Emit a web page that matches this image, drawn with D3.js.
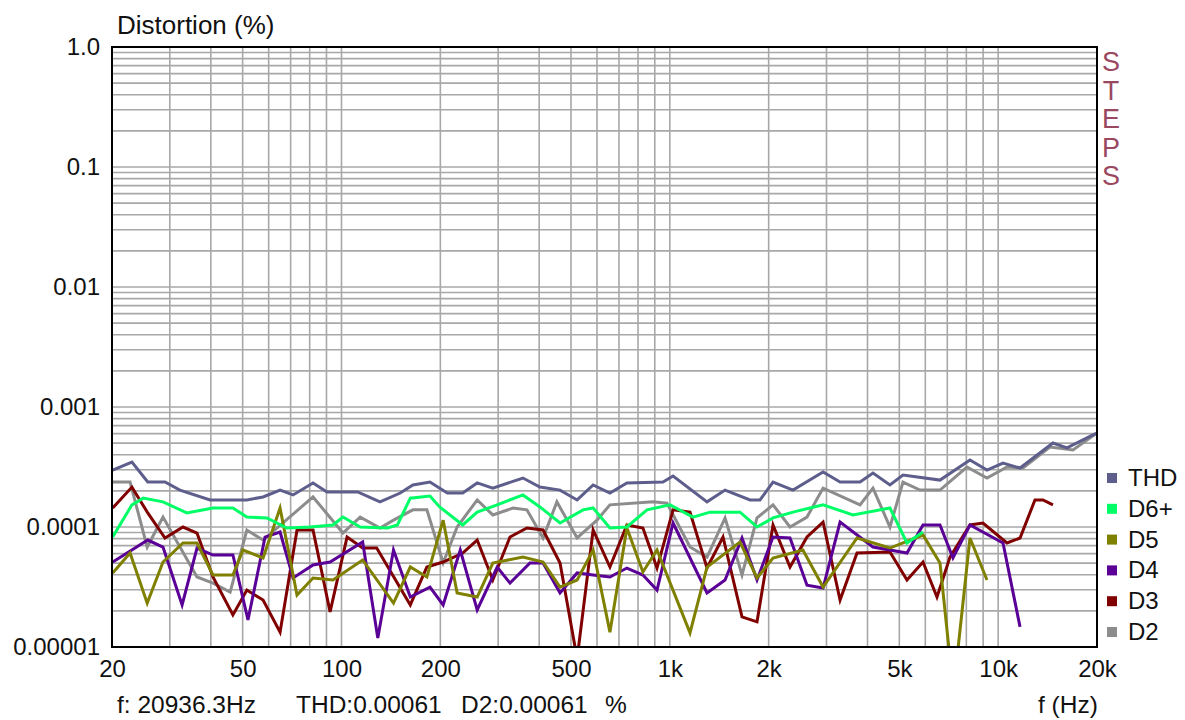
<!DOCTYPE html>
<html>
<head>
<meta charset="utf-8">
<script src="https://cdn.jsdelivr.net/npm/d3@7"></script>
<style>
  body { margin: 0; background: #fff; }
  text { font-family: "Liberation Sans", Arial, sans-serif; }
</style>
</head>
<body>
<div id="chart"></div>
<script>
// series: [frequency Hz, distortion %]
const thd = [[20.1,2.98e-4],[23,3.48e-4],[25.7,2.37e-4],[29,2.37e-4],[32.2,2.03e-4],[39.8,1.68e-4],[51.5,1.68e-4],[57.7,1.78e-4],[65,2.03e-4],[71.2,1.85e-4],[81.9,2.33e-4],[90.3,1.96e-4],[112,1.96e-4],[131,1.62e-4],[151,1.92e-4],[165,2.24e-4],[186,2.37e-4],[210,1.92e-4],[234,1.92e-4],[259,2.33e-4],[289,2.11e-4],[357,2.56e-4],[402,2.15e-4],[463,2.03e-4],[522,1.68e-4],[584,2.24e-4],[657,1.92e-4],[740,2.33e-4],[953,2.37e-4],[1023,2.66e-4],[1298,1.62e-4],[1473,2.03e-4],[1755,1.68e-4],[1882,1.68e-4],[2062,2.37e-4],[2372,2.03e-4],[2929,2.87e-4],[3300,2.37e-4],[3796,2.37e-4],[4157,2.82e-4],[4682,2.24e-4],[5130,2.71e-4],[6650,2.46e-4],[8206,3.62e-4],[9246,2.98e-4],[10346,3.41e-4],[11658,3.1e-4],[14684,5.01e-4],[16200,4.56e-4],[19446,5.85e-4],[20000,6.07e-4]];
const d6 = [[20.1,0.825e-4],[23,1.53e-4],[24.9,1.74e-4],[28.6,1.62e-4],[33.8,1.31e-4],[40.6,1.44e-4],[46.7,1.44e-4],[51.5,1.21e-4],[59.3,1.19e-4],[68.2,0.981e-4],[80.2,1e-4],[94.2,1.04e-4],[101,1.21e-4],[114,1e-4],[138,0.981e-4],[148,1.04e-4],[162,1.74e-4],[186,1.81e-4],[199,1.47e-4],[234,1.04e-4],[259,1.33e-4],[298,1.53e-4],[357,1.85e-4],[402,1.47e-4],[463,1.08e-4],[544,1.39e-4],[584,1.44e-4],[657,0.981e-4],[740,1e-4],[852,1.39e-4],[1001,1.53e-4],[1176,1.21e-4],[1325,1.33e-4],[1636,1.33e-4],[1843,1e-4],[2062,1.19e-4],[2372,1.33e-4],[2929,1.53e-4],[3612,1.26e-4],[4682,1.44e-4],[5276,0.736e-4],[5903,0.908e-4]];
const d5 = [[20.1,0.414e-4],[22.7,0.607e-4],[25.6,0.232e-4],[28.6,0.511e-4],[32.9,0.736e-4],[36.3,0.736e-4],[40.6,0.398e-4],[46.7,0.398e-4],[50.1,0.643e-4],[57.7,0.552e-4],[65,1.44e-4],[73.2,0.271e-4],[81.9,0.376e-4],[94.2,0.362e-4],[116,0.531e-4],[144,0.232e-4],[162,0.464e-4],[182,0.383e-4],[204,1.14e-4],[225,0.282e-4],[259,0.261e-4],[289,0.501e-4],[357,0.562e-4],[411,0.511e-4],[463,0.316e-4],[522,0.362e-4],[584,0.643e-4],[657,0.133e-4],[740,0.981e-4],[828,0.422e-4],[914,0.643e-4],[1152,0.131e-4],[1298,0.464e-4],[1636,0.75e-4],[1843,0.376e-4],[2062,0.552e-4],[2543,0.643e-4],[2929,0.316e-4],[3716,0.81e-4],[4682,0.668e-4],[5903,0.858e-4],[6650,0.501e-4],[7133,0.08e-4],[7490,0.08e-4],[8206,0.81e-4],[9246,0.362e-4]];
const d4 = [[20.1,0.511e-4],[25.7,0.779e-4],[28.6,0.681e-4],[32.7,0.224e-4],[36.3,0.668e-4],[40.6,0.584e-4],[46.7,0.584e-4],[51.9,0.168e-4],[58.5,0.825e-4],[65,0.908e-4],[71.2,0.376e-4],[81.9,0.482e-4],[92.3,0.511e-4],[116,0.75e-4],[129,0.119e-4],[144,0.643e-4],[162,0.261e-4],[186,0.316e-4],[204,0.224e-4],[230,0.643e-4],[259,0.204e-4],[298,0.464e-4],[326,0.341e-4],[375,0.501e-4],[411,0.501e-4],[463,0.282e-4],[522,0.414e-4],[584,0.398e-4],[657,0.383e-4],[740,0.455e-4],[828,0.398e-4],[914,0.298e-4],[1023,1.08e-4],[1298,0.282e-4],[1473,0.362e-4],[1659,0.81e-4],[1843,0.362e-4],[2062,0.825e-4],[2323,0.81e-4],[2617,0.327e-4],[2929,0.31e-4],[3300,1.1e-4],[4157,0.681e-4],[5276,0.607e-4],[5903,1.04e-4],[6650,1.04e-4],[7283,0.552e-4],[8206,1.04e-4],[10346,0.736e-4],[11658,0.147e-4]];
const d3s = [[20.1,1.44e-4],[23,2.15e-4],[25.7,1.31e-4],[29,0.81e-4],[32.9,1e-4],[36.3,0.891e-4],[40.6,0.383e-4],[46.7,0.185e-4],[51.5,0.298e-4],[57.7,0.246e-4],[65,0.133e-4],[73.2,0.944e-4],[81.9,0.944e-4],[92.3,0.196e-4],[104,0.825e-4],[116,0.668e-4],[128,0.668e-4],[162,0.224e-4],[182,0.464e-4],[204,0.511e-4],[234,0.607e-4],[259,0.779e-4],[289,0.362e-4],[326,0.825e-4],[367,0.981e-4],[411,0.944e-4],[463,0.501e-4],[522,0.08e-4],[584,0.944e-4],[657,0.464e-4],[740,1.04e-4],[828,0.981e-4],[914,0.455e-4],[1023,1.39e-4],[1152,1.33e-4],[1298,0.455e-4],[1452,0.825e-4],[1659,0.178e-4],[1843,0.162e-4],[2062,1.04e-4],[2323,0.464e-4],[2617,0.825e-4],[2929,1.1e-4],[3300,0.246e-4],[3716,0.607e-4],[4682,0.619e-4],[5276,0.362e-4],[5903,0.511e-4],[6512,0.261e-4],[7133,0.562e-4],[8206,1.04e-4],[8991,1.08e-4],[10638,0.736e-4],[11658,0.81e-4],[12944,1.68e-4],[13692,1.68e-4],[14684,1.53e-4]];
const d2 = [[20.1,2.37e-4],[22.7,2.37e-4],[25.6,0.681e-4],[28.6,1.21e-4],[36.3,0.383e-4],[40.6,0.341e-4],[45.8,0.287e-4],[51.5,0.944e-4],[57.7,0.779e-4],[81.9,1.78e-4],[101,0.891e-4],[114,1.21e-4],[131,0.981e-4],[144,1.14e-4],[165,1.39e-4],[182,1.39e-4],[204,0.501e-4],[225,1e-4],[259,1.68e-4],[289,1.26e-4],[333,1.44e-4],[367,1.39e-4],[411,0.81e-4],[453,1.62e-4],[522,0.81e-4],[600,1.14e-4],[657,1.53e-4],[889,1.62e-4],[980,1.58e-4],[1152,0.681e-4],[1298,0.562e-4],[1473,1.19e-4],[1659,0.398e-4],[1843,1.19e-4],[2062,1.53e-4],[2323,1e-4],[2617,1.21e-4],[2929,2.11e-4],[3796,1.53e-4],[4157,2.11e-4],[4682,1e-4],[5130,2.37e-4],[5780,2.03e-4],[6650,2.03e-4],[8034,3.16e-4],[9246,2.56e-4],[10638,3.16e-4],[11904,3.1e-4],[14380,4.64e-4],[16900,4.39e-4],[20000,6.07e-4]];

const seriesNames = ["THD", "D6+", "D5", "D4", "D3", "D2"];
const seriesColors = ["#5e5e8c", "#00ff66", "#808000", "#5a0096", "#800000", "#8c8c8c"];
const seriesData = [thd, d6, d5, d4, d3s, d2];

const xTickValues = [20, 50, 100, 200, 500, 1000, 2000, 5000, 10000, 20000];
const xTickLabels = ["20", "50", "100", "200", "500", "1k", "2k", "5k", "10k", "20k"];
const yTickValues = [1, 0.1, 0.01, 0.001, 0.0001, 0.00001];
const yTickLabels = ["1.0", "0.1", "0.01", "0.001", "0.0001", "0.00001"];

const width = 1185, height = 720;
const plot = { left: 112, top: 47, right: 1097, bottom: 647 };

const svg = d3.select("#chart").append("svg")
  .attr("width", width).attr("height", height);

const x = d3.scaleLog().domain([20, 20000]).range([plot.left, plot.right]);
const y = d3.scaleLog().domain([0.00001, 1]).range([plot.bottom, plot.top]);

// grid lines, one per 1..9 step of every decade
let xGrid = [];
for (let e = 1; e <= 4; e++) {
  for (let k = 1; k <= 9; k++) {
    const v = k * Math.pow(10, e);
    if (v >= 20 && v <= 20000) xGrid.push(v);
  }
}
let yGrid = [];
for (let e = -5; e <= -1; e++) {
  for (let k = 1; k <= 9; k++) yGrid.push(k * Math.pow(10, e));
}

svg.append("g").selectAll("line").data(xGrid).enter().append("line")
  .attr("x1", d => x(d)).attr("x2", d => x(d))
  .attr("y1", plot.top).attr("y2", plot.bottom)
  .attr("stroke", "#a8a8a8").attr("stroke-width", 1.6);

svg.append("g").selectAll("line").data(yGrid).enter().append("line")
  .attr("x1", plot.left).attr("x2", plot.right)
  .attr("y1", d => y(d)).attr("y2", d => y(d))
  .attr("stroke", "#a8a8a8").attr("stroke-width", 1.6);

svg.append("clipPath").attr("id", "clip").append("rect")
  .attr("x", plot.left).attr("y", plot.top)
  .attr("width", plot.right - plot.left).attr("height", plot.bottom - plot.top);

const line = d3.line().x(d => x(d[0])).y(d => y(d[1]));

// draw bottom-most series first so THD ends on top
const lines = svg.append("g").attr("clip-path", "url(#clip)");
for (let i = seriesData.length - 1; i >= 0; i--) {
  lines.append("path")
    .datum(seriesData[i])
    .attr("d", line)
    .attr("fill", "none")
    .attr("stroke", seriesColors[i])
    .attr("stroke-width", 3)
    .attr("stroke-linejoin", "miter");
}

// frame
svg.append("rect")
  .attr("x", plot.left).attr("y", plot.top)
  .attr("width", plot.right - plot.left).attr("height", plot.bottom - plot.top)
  .attr("fill", "none").attr("stroke", "#000").attr("stroke-width", 2);

// axes
const yAxis = svg.append("g")
  .attr("transform", `translate(${plot.left - 9},0)`)
  .call(d3.axisLeft(y).tickValues(yTickValues).tickSize(0)
    .tickFormat((d, i) => yTickLabels[i]));
yAxis.select(".domain").remove();
yAxis.selectAll("text").attr("font-size", 24).attr("fill", "#111")
  .attr("font-family", "Liberation Sans, Arial, sans-serif");

const xAxis = svg.append("g")
  .attr("transform", `translate(0,${plot.bottom + 10})`)
  .call(d3.axisBottom(x).tickValues(xTickValues).tickSize(0)
    .tickFormat((d, i) => xTickLabels[i]));
xAxis.select(".domain").remove();
xAxis.selectAll("text").attr("font-size", 24).attr("fill", "#111")
  .attr("font-family", "Liberation Sans, Arial, sans-serif");

// titles and readouts
svg.append("text").attr("x", 117).attr("y", 34)
  .attr("font-size", 26).attr("fill", "#111").text("Distortion (%)");
svg.append("text").attr("x", 117).attr("y", 713)
  .attr("font-size", 24.5).attr("fill", "#111").text("f: 20936.3Hz");
svg.append("text").attr("x", 296).attr("y", 713)
  .attr("font-size", 24.5).attr("fill", "#111").text("THD:0.00061");
svg.append("text").attr("x", 461).attr("y", 713)
  .attr("font-size", 24.5).attr("fill", "#111").text("D2:0.00061");
svg.append("text").attr("x", 605).attr("y", 713)
  .attr("font-size", 24.5).attr("fill", "#111").text("%");
svg.append("text").attr("x", 1038).attr("y", 713)
  .attr("font-size", 24.5).attr("fill", "#111").text("f (Hz)");

// vertical STEPS label
const steps = "STEPS".split("");
svg.append("g").selectAll("text").data(steps).enter().append("text")
  .attr("x", 1111).attr("y", (d, i) => 71 + i * 28.5)
  .attr("text-anchor", "middle")
  .attr("font-size", 27).attr("fill", "#9a4860")
  .text(d => d);

// legend
const legend = svg.append("g").selectAll("g").data(seriesNames).enter().append("g")
  .attr("transform", (d, i) => `translate(1107,${478 + i * 30.8})`);
legend.append("rect").attr("x", 0).attr("y", -5).attr("width", 10).attr("height", 10)
  .attr("fill", (d, i) => seriesColors[i]);
legend.append("text").attr("x", 21).attr("y", 8)
  .attr("font-size", 24).attr("fill", "#111").text(d => d);
</script>
</body>
</html>
